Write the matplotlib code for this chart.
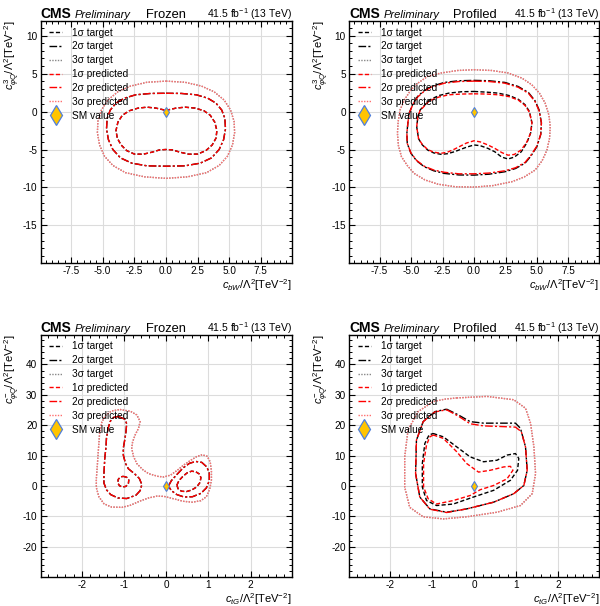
import numpy as np
import matplotlib
matplotlib.use('Agg')
import matplotlib.pyplot as plt
from matplotlib.ticker import AutoMinorLocator, MultipleLocator
from matplotlib.lines import Line2D

plt.rcParams['font.family'] = ['Liberation Sans', 'DejaVu Sans']
plt.rcParams['mathtext.fontset'] = 'custom'
plt.rcParams['mathtext.rm'] = 'Liberation Sans'
plt.rcParams['mathtext.it'] = 'Liberation Sans:italic'
plt.rcParams['mathtext.bf'] = 'Liberation Sans:bold'
plt.rcParams['axes.unicode_minus'] = False

# ---------------- data: top-left (c_bW vs c_phiQ^3), frozen ----------------
fz_bw_1s_x = [0, 0.8, 1.5, 2.3, 3.0, 3.5, 3.85, 4.02, 3.95, 3.65, 3.15, 2.5, 1.8, 1.1, 0.5,
              0, -0.5, -1.1, -1.8, -2.5, -3.1, -3.55, -3.85, -3.95, -3.8, -3.45, -2.9, -2.2, -1.5, -0.8]
fz_bw_1s_y = [0.15, 0.45, 0.57, 0.45, 0.1, -0.5, -1.4, -2.5, -3.5, -4.4, -5.15, -5.6, -5.62, -5.35, -5.05,
              -5.0, -5.05, -5.35, -5.62, -5.6, -5.15, -4.4, -3.5, -2.5, -1.4, -0.5, 0.1, 0.45, 0.57, 0.45]
fz_bw_2s_x = [0, 1.2, 2.4, 3.3, 3.95, 4.4, 4.65, 4.7, 4.55, 4.2, 3.6, 2.7, 1.5,
              0, -1.5, -2.7, -3.6, -4.2, -4.55, -4.7, -4.65, -4.4, -3.95, -3.3, -2.4, -1.2]
fz_bw_2s_y = [2.4, 2.38, 2.2, 1.75, 1.1, 0.2, -0.9, -2.3, -3.7, -5.0, -6.1, -6.8, -7.15,
              -7.2, -7.15, -6.8, -6.1, -5.0, -3.7, -2.3, -0.9, 0.2, 1.1, 1.75, 2.2, 2.38]
fz_bw_3s_x = [0, 1.5, 2.8, 3.8, 4.6, 5.1, 5.38, 5.42, 5.25, 4.85, 4.2, 3.2, 1.7,
              0, -1.7, -3.2, -4.2, -4.85, -5.25, -5.42, -5.38, -5.1, -4.6, -3.8, -2.8, -1.5]
fz_bw_3s_y = [4.0, 3.85, 3.35, 2.6, 1.5, 0.2, -1.3, -2.8, -4.4, -5.9, -7.1, -8.05, -8.6,
              -8.8, -8.6, -8.05, -7.1, -5.9, -4.4, -2.8, -1.3, 0.2, 1.5, 2.6, 3.35, 3.85]

# ---------------- data: top-right, profiled ----------------
pf_bw_1s_t_x = [0, 1.0, 1.92, 2.8, 3.52, 4.05, 4.4, 4.6, 4.5, 4.2, 3.75, 3.2, 2.7, 2.2, 1.65, 1.1, 0.5,
                0, -0.6, -1.55, -2.1, -2.61, -3.2, -3.68, -4.1, -4.4, -4.55, -4.45, -4.27, -3.55, -2.8, -2.0, -1.0]
pf_bw_1s_t_y = [2.64, 2.55, 2.42, 2.1, 1.6, 0.9, 0.0, -1.5, -2.8, -4.1, -5.3, -6.0, -6.25, -6.0, -5.3, -4.85, -4.5,
                -4.4, -4.7, -5.29, -5.55, -5.64, -5.45, -5.07, -4.4, -3.6, -2.0, -0.6, 0.22, 1.5, 2.1, 2.42, 2.6]
pf_bw_1s_p_x = [0, 1.0, 1.92, 2.8, 3.52, 4.05, 4.4, 4.6, 4.5, 4.2, 3.75, 3.2, 2.7, 2.2, 1.65, 1.1, 0.5,
                0, -0.6, -1.55, -2.1, -2.61, -3.2, -3.68, -4.1, -4.4, -4.55, -4.45, -4.27, -3.55, -2.8, -2.0, -1.0]
pf_bw_1s_p_y = [2.33, 2.3, 2.2, 1.95, 1.5, 0.8, -0.1, -1.5, -2.8, -4.0, -5.05, -5.65, -5.75, -5.4, -4.85, -4.4, -4.0,
                -3.85, -4.15, -4.95, -5.35, -5.5, -5.35, -5.0, -4.35, -3.6, -2.0, -0.6, 0.15, 1.4, 1.9, 2.2, 2.3]
pf_bw_2s_t_x = [0, 1.2, 2.45, 3.5, 4.32, 4.85, 5.17, 5.35, 5.3, 4.99, 4.5, 4.05, 3.3, 2.45, 1.2,
                0, -1.2, -2.35, -3.2, -3.95, -4.55, -5.01, -5.3, -5.33, -5.25, -5.15, -4.85, -4.48, -4.0, -3.41, -2.35, -1.2]
pf_bw_2s_t_y = [4.1, 4.05, 3.83, 3.3, 2.5, 1.4, 0.2, -1.5, -3.0, -4.63, -5.9, -6.8, -7.5, -7.93, -8.25,
                -8.37, -8.35, -8.15, -7.8, -7.27, -6.5, -5.5, -4.2, -2.86, -1.5, -0.22, 1.0, 1.98, 2.7, 3.3, 3.83, 4.05]
pf_bw_2s_p_x = [0, 1.2, 2.45, 3.5, 4.32, 4.85, 5.17, 5.35, 5.3, 4.99, 4.5, 4.05, 3.3, 2.45, 1.2,
                0, -1.2, -2.35, -3.2, -3.95, -4.55, -5.01, -5.3, -5.33, -5.25, -5.15, -4.85, -4.48, -4.0, -3.41, -2.35, -1.2]
pf_bw_2s_p_y = [4.0, 3.95, 3.73, 3.2, 2.4, 1.3, 0.1, -1.5, -3.0, -4.55, -5.8, -6.7, -7.4, -7.8, -8.1,
                -8.2, -8.2, -8.0, -7.7, -7.2, -6.45, -5.45, -4.2, -2.86, -1.5, -0.25, 0.95, 1.9, 2.6, 3.2, 3.73, 3.95]
pf_bw_3s_x = [0, 1.4, 2.72, 3.8, 4.59, 5.2, 5.65, 5.95, 6.05, 6.0, 5.79, 5.4, 4.85, 4.0, 2.99, 1.5,
              0, -1.5, -2.88, -3.9, -4.75, -5.3, -5.76, -6.0, -6.08, -6.02, -5.87, -5.5, -5.01, -4.4, -3.68, -2.61, -1.3]
pf_bw_3s_y = [5.5, 5.4, 5.07, 4.4, 3.52, 2.4, 1.1, -0.5, -1.98, -3.5, -5.07, -6.5, -7.71, -8.6, -9.25, -9.75,
              -9.95, -9.9, -9.56, -9.0, -8.15, -7.1, -5.95, -4.5, -2.86, -1.3, 0.22, 1.6, 2.86, 3.8, 4.63, 5.07, 5.4]

# ---------------- data: bottom-left (c_tG vs c_phiQ^-), frozen ----------------
fz_tg_1s_a_x = [-1.02, -0.94, -0.89, -0.90, -0.96, -1.04, -1.11, -1.15, -1.14, -1.09]
fz_tg_1s_a_y = [3.2, 2.9, 2.0, 0.8, -0.1, -0.3, 0.1, 1.0, 2.2, 3.0]
fz_tg_1s_b_x = [0.25, 0.3, 0.4, 0.5, 0.6, 0.7, 0.78, 0.82, 0.8, 0.72, 0.6, 0.48, 0.36, 0.28]
fz_tg_1s_b_y = [0.3, 1.8, 3.3, 4.4, 4.9, 4.7, 4.0, 2.8, 1.2, -0.3, -1.3, -1.8, -1.7, -0.9]
fz_tg_2s_a_x = [-1.14, -0.98, -0.94, -0.96, -0.98, -1.02, -1.02, -0.97, -0.9, -0.75, -0.64, -0.58, -0.62,
                -0.72, -0.94, -1.15, -1.32, -1.42, -1.48, -1.48, -1.46, -1.43, -1.42, -1.38, -1.33, -1.25]
fz_tg_2s_a_y = [22.9, 22.0, 20.5, 17.5, 15.7, 12.5, 10.2, 7.5, 5.7, 4.0, 2.5, 0.5, -1.5,
                -3.0, -4.1, -3.9, -2.8, -1.2, 1.0, 4.0, 9.1, 13.0, 15.7, 19.0, 21.3, 22.6]
fz_tg_2s_b_x = [0.05, 0.12, 0.25, 0.4, 0.55, 0.7, 0.84, 0.96, 1.02, 1.02, 0.95, 0.82, 0.62, 0.42, 0.25, 0.12]
fz_tg_2s_b_y = [0.0, 1.8, 3.8, 6.0, 7.5, 8.1, 7.8, 6.3, 4.2, 1.8, -0.6, -2.4, -3.5, -3.6, -2.8, -1.5]
fz_tg_3s_x = [-1.1, -0.85, -0.7, -0.62, -0.66, -0.74, -0.8, -0.82, -0.78, -0.7, -0.55, -0.42, -0.2, -0.06,
              0.1, 0.26, 0.42, 0.58, 0.72, 0.85, 0.97, 1.04, 1.07, 1.07, 1.03, 0.95, 0.82, 0.62, 0.4, 0.18,
              -0.05, -0.22, -0.42, -0.62, -0.85, -1.05, -1.3, -1.48, -1.6, -1.66, -1.66, -1.64, -1.62, -1.6,
              -1.58, -1.53, -1.44, -1.3]
fz_tg_3s_y = [25.2, 24.6, 23.4, 21.2, 19.0, 16.8, 14.5, 12.4, 9.8, 7.4, 5.3, 4.1, 3.2, 3.0,
              3.6, 5.2, 7.0, 8.5, 9.7, 10.3, 9.8, 8.0, 5.0, 2.0, -1.0, -3.5, -4.8, -5.3, -5.0, -4.2,
              -3.4, -3.3, -3.9, -4.9, -6.3, -7.0, -6.9, -5.8, -3.5, -0.5, 2.4, 6.0, 10.2, 14.0,
              17.9, 21.0, 23.3, 24.7]

# ---------------- data: bottom-right, profiled ----------------
pf_tg_1s_t_x = [-0.98, -0.74, -0.42, -0.1, 0.22, 0.54, 0.78, 0.98, 1.06, 1.03, 0.86, 0.46, -0.02,
                -0.5, -0.9, -1.14, -1.24, -1.24, -1.18, -1.08]
pf_tg_1s_t_y = [17.3, 16.2, 12.9, 9.6, 8.0, 8.5, 10.2, 10.7, 9.1, 5.2, 1.9, -1.4, -3.6,
                -5.9, -6.4, -4.75, -0.3, 7.4, 14.0, 16.8]
pf_tg_1s_p_x = [-0.98, -0.74, -0.42, -0.18, 0.1, 0.38, 0.7, 0.86, 0.92, 0.78, 0.46, 0.14, -0.1,
                -0.5, -0.9, -1.1, -1.21, -1.21, -1.14, -1.06]
pf_tg_1s_p_y = [16.8, 15.7, 11.3, 7.4, 4.6, 5.2, 6.3, 6.5, 5.2, 2.4, 0.2, -1.2, -3.1,
                -4.75, -5.9, -4.2, -0.3, 7.4, 13.5, 16.2]
pf_tg_2s_t_x = [-0.66, -0.38, -0.1, 0.22, 0.62, 0.98, 1.1, 1.22, 1.26, 1.18, 0.94, 0.46, -0.18,
                -0.66, -1.06, -1.3, -1.4, -1.38, -1.22, -0.94]
pf_tg_2s_t_y = [25.3, 23.4, 21.2, 20.7, 20.7, 20.7, 19.0, 12.9, 5.2, 0.2, -2.5, -5.3, -7.5,
                -8.6, -7.5, -3.6, 4.1, 15.1, 21.2, 24.5]
pf_tg_2s_p_x = [-0.66, -0.38, -0.1, 0.22, 0.62, 0.98, 1.12, 1.22, 1.26, 1.18, 0.94, 0.46, -0.18,
                -0.66, -1.06, -1.3, -1.4, -1.38, -1.22, -0.94]
pf_tg_2s_p_y = [25.1, 23.0, 20.5, 19.8, 19.6, 19.4, 17.9, 12.9, 5.2, 0.2, -2.5, -5.3, -7.5,
                -8.7, -7.6, -3.6, 4.1, 15.1, 21.2, 24.4]
pf_tg_3s_x = [-0.42, 0.3, 0.94, 1.22, 1.34, 1.42, 1.46, 1.38, 1.1, 0.54, -0.18, -0.74, -1.22,
              -1.54, -1.66, -1.66, -1.58, -1.34, -0.98, -0.7]
pf_tg_3s_y = [29.0, 29.5, 28.4, 25.6, 20.7, 12.9, 4.1, -2.5, -6.4, -8.6, -10.1, -10.8, -10.1,
              -7.0, -0.3, 9.6, 18.5, 24.5, 27.8, 28.6]

sm_x = [0.0]
sm_y = [0.0]

panels = [
    dict(title='Frozen', xlabel=r'$c_{bW}/\Lambda^2$[TeV$^{-2}$]',
         ylabel=r'$c^{3}_{\varphi Q}/\Lambda^2$[TeV$^{-2}$]',
         xlim=(-9.9, 9.95), ylim=(-19.9, 11.95), xmaj=2.5, ymaj=5,
         target=[[(fz_bw_1s_x, fz_bw_1s_y)], [(fz_bw_2s_x, fz_bw_2s_y)], [(fz_bw_3s_x, fz_bw_3s_y)]],
         pred=[[(fz_bw_1s_x, fz_bw_1s_y)], [(fz_bw_2s_x, fz_bw_2s_y)], [(fz_bw_3s_x, fz_bw_3s_y)]]),
    dict(title='Profiled', xlabel=r'$c_{bW}/\Lambda^2$[TeV$^{-2}$]',
         ylabel=r'$c^{3}_{\varphi Q}/\Lambda^2$[TeV$^{-2}$]',
         xlim=(-9.9, 9.95), ylim=(-19.9, 11.95), xmaj=2.5, ymaj=5,
         target=[[(pf_bw_1s_t_x, pf_bw_1s_t_y)], [(pf_bw_2s_t_x, pf_bw_2s_t_y)], [(pf_bw_3s_x, pf_bw_3s_y)]],
         pred=[[(pf_bw_1s_p_x, pf_bw_1s_p_y)], [(pf_bw_2s_p_x, pf_bw_2s_p_y)], [(pf_bw_3s_x, pf_bw_3s_y)]]),
    dict(title='Frozen', xlabel=r'$c_{tG}/\Lambda^2$[TeV$^{-2}$]',
         ylabel=r'$c^{-}_{\varphi Q}/\Lambda^2$[TeV$^{-2}$]',
         xlim=(-2.98, 2.98), ylim=(-29.8, 49.8), xmaj=1, ymaj=10,
         target=[[(fz_tg_1s_a_x, fz_tg_1s_a_y), (fz_tg_1s_b_x, fz_tg_1s_b_y)],
                 [(fz_tg_2s_a_x, fz_tg_2s_a_y), (fz_tg_2s_b_x, fz_tg_2s_b_y)],
                 [(fz_tg_3s_x, fz_tg_3s_y)]],
         pred=[[(fz_tg_1s_a_x, fz_tg_1s_a_y), (fz_tg_1s_b_x, fz_tg_1s_b_y)],
               [(fz_tg_2s_a_x, fz_tg_2s_a_y), (fz_tg_2s_b_x, fz_tg_2s_b_y)],
               [(fz_tg_3s_x, fz_tg_3s_y)]]),
    dict(title='Profiled', xlabel=r'$c_{tG}/\Lambda^2$[TeV$^{-2}$]',
         ylabel=r'$c^{-}_{\varphi Q}/\Lambda^2$[TeV$^{-2}$]',
         xlim=(-2.98, 2.98), ylim=(-29.8, 49.8), xmaj=1, ymaj=10,
         target=[[(pf_tg_1s_t_x, pf_tg_1s_t_y)], [(pf_tg_2s_t_x, pf_tg_2s_t_y)], [(pf_tg_3s_x, pf_tg_3s_y)]],
         pred=[[(pf_tg_1s_p_x, pf_tg_1s_p_y)], [(pf_tg_2s_p_x, pf_tg_2s_p_y)], [(pf_tg_3s_x, pf_tg_3s_y)]]),
]

DASH = (0, (3, 1.6))
DASHDOT = (0, (5.5, 1.6, 1.5, 1.6))
DOT = (0, (1, 1))
t_styles = [dict(color='black', ls=DASH), dict(color='black', ls=DASHDOT), dict(color='#888888', ls=DOT)]
p_styles = [dict(color='#ff0000', ls=DASH), dict(color='#ff0000', ls=DASHDOT), dict(color='#ff7070', ls=DOT)]
labels_t = ['1σ target', '2σ target', '3σ target']
labels_p = ['1σ predicted', '2σ predicted', '3σ predicted']
SM_FACE = '#ffc400'
SM_EDGE = '#4f7fdc'

fig = plt.figure(figsize=(6.0, 6.06), dpi=100)
positions = [(0.0678, 0.5665, 0.4188, 0.3993), (0.5822, 0.5665, 0.4167, 0.3993),
             (0.0678, 0.0484, 0.4188, 0.3993), (0.5822, 0.0484, 0.4167, 0.3993)]

for pos, p in zip(positions, panels):
    ax = fig.add_axes(pos)
    ax.set_axisbelow(True)
    ax.grid(True, which='major', color='#dcdcdc', linewidth=0.8)
    for lev in range(3):
        for (xs, ys) in p['target'][lev]:
            ax.plot(list(xs) + [xs[0]], list(ys) + [ys[0]], lw=1.0, **t_styles[lev])
    for lev in range(3):
        for (xs, ys) in p['pred'][lev]:
            ax.plot(list(xs) + [xs[0]], list(ys) + [ys[0]], lw=1.0, **p_styles[lev])
    ax.plot(sm_x, sm_y, ls='none', marker='d', ms=5, mfc=SM_FACE, mec=SM_EDGE, mew=0.8, zorder=5)

    ax.set_xlim(*p['xlim'])
    ax.set_ylim(*p['ylim'])
    ax.xaxis.set_major_locator(MultipleLocator(p['xmaj']))
    ax.yaxis.set_major_locator(MultipleLocator(p['ymaj']))
    ax.xaxis.set_minor_locator(AutoMinorLocator())
    ax.yaxis.set_minor_locator(AutoMinorLocator())
    ax.tick_params(which='both', direction='in', top=True, right=True, labelsize=7.2, pad=2.5)
    ax.tick_params(which='major', length=4, width=0.8)
    ax.tick_params(which='minor', length=2, width=0.7)
    for s in ax.spines.values():
        s.set_linewidth(1.0)

    ax.set_xlabel(p['xlabel'], loc='right', fontsize=8, labelpad=0.5)
    ax.set_ylabel(p['ylabel'], loc='top', fontsize=8, labelpad=0.5)

    ax.text(0.0, 1.012, 'CMS', transform=ax.transAxes, fontsize=10, fontweight='bold',
            ha='left', va='baseline')
    ax.text(0.137, 1.012, 'Preliminary', transform=ax.transAxes, fontsize=8, fontstyle='italic',
            ha='left', va='baseline')
    ax.text(0.5, 1.012, p['title'], transform=ax.transAxes, fontsize=9.3, ha='center', va='baseline')
    ax.text(1.0, 1.012, r'41.5 fb$^{-1}$ (13 TeV)', transform=ax.transAxes, fontsize=7.5,
            ha='right', va='baseline')

    handles = []
    for lev in range(3):
        handles.append(Line2D([], [], lw=1.0, **t_styles[lev]))
    for lev in range(3):
        handles.append(Line2D([], [], lw=1.0, **p_styles[lev]))
    handles.append(Line2D([], [], ls='none', marker='d', ms=10, mfc=SM_FACE, mec=SM_EDGE, mew=0.9))
    ax.legend(handles, labels_t + labels_p + ['SM value'], loc='upper left',
              bbox_to_anchor=(0.035, 0.972), frameon=False, fontsize=7.3, borderpad=0,
              labelspacing=0.38, handlelength=1.25, handletextpad=1.0, borderaxespad=0)

fig.savefig('out.png', dpi=100)
